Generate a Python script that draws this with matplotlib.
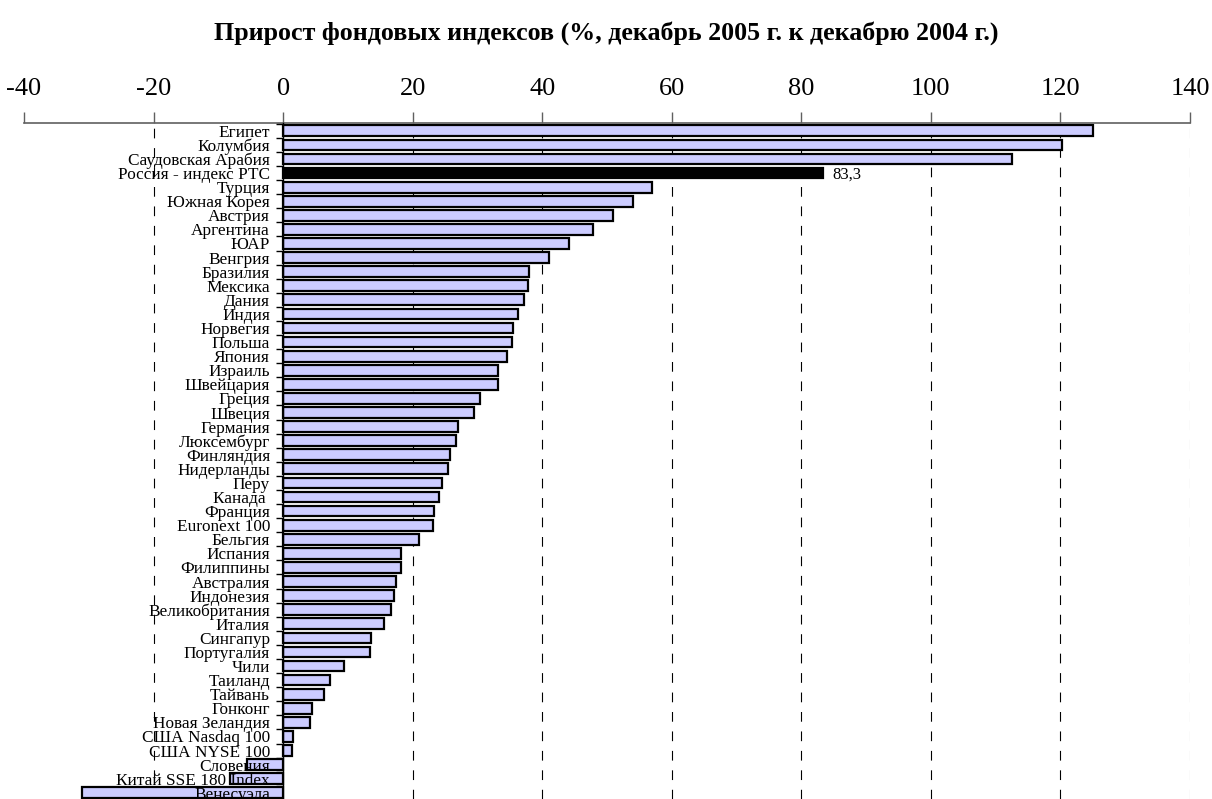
import matplotlib
matplotlib.use("Agg")
import matplotlib.pyplot as plt

plt.rcParams['font.family'] = ['Liberation Serif', 'DejaVu Serif']
plt.rcParams['lines.scale_dashes'] = False

title = "Прирост фондовых индексов (%, декабрь 2005 г. к декабрю 2004 г.)"

categories = [
    "Египет", "Колумбия", "Саудовская Арабия", "Россия - индекс РТС", "Турция",
    "Южная Корея", "Австрия", "Аргентина", "ЮАР", "Венгрия", "Бразилия",
    "Мексика", "Дания", "Индия", "Норвегия", "Польша", "Япония", "Израиль",
    "Швейцария", "Греция", "Швеция", "Германия", "Люксембург", "Финляндия",
    "Нидерланды", "Перу", "Канада ", "Франция", "Euronext 100", "Бельгия",
    "Испания", "Филиппины", "Австралия", "Индонезия", "Великобритания",
    "Италия", "Сингапур", "Португалия", "Чили", "Таиланд", "Тайвань",
    "Гонконг", "Новая Зеландия", "США Nasdaq 100", "США NYSE 100",
    "Словения", "Китай SSE 180 Index", "Венесуэла",
]
values = [
    125.0, 120.3, 112.5, 83.3, 57.0,
    54.0, 50.9, 47.8, 44.1, 41.0, 38.0,
    37.8, 37.2, 36.2, 35.5, 35.4, 34.6, 33.2,
    33.1, 30.4, 29.4, 27.0, 26.7, 25.7,
    25.4, 24.6, 24.0, 23.3, 23.2, 21.0,
    18.2, 18.2, 17.4, 17.1, 16.7,
    15.5, 13.6, 13.4, 9.4, 7.3, 6.3,
    4.5, 4.2, 1.5, 1.4,
    -5.6, -8.2, -31.0,
]
highlight = "Россия - индекс РТС"
highlight_label = "83,3"
xticks = [-40, -20, 0, 20, 40, 60, 80, 100, 120, 140]

fig = plt.figure(figsize=(12.12, 7.99), dpi=100)
W, H = 1212, 799
left_px, right_px, top_px, bot_px = 24, 1190, 122.5, 799
ax = fig.add_axes([left_px / W, 1 - bot_px / H, (right_px - left_px) / W, (bot_px - top_px) / H])

n = len(categories)
pos = list(range(n))
colors = ["black" if c == highlight else "#CCCCFF" for c in categories]
ax.barh(pos, values, height=0.76, color=colors, edgecolor="black", linewidth=1.6, zorder=1.2)

ax.set_xlim(xticks[0], xticks[-1])
ax.set_ylim(47.44, -0.59)

# dashed gridlines
for t in xticks[1:]:
    if t == 0:
        continue
    col = "#B0B0B0" if t == xticks[-1] else "black"
    ax.axvline(t, color=col, linewidth=0.8, linestyle=(0, (7, 7)), zorder=0.5)

# value label for highlight
i = categories.index(highlight)
ax.text(values[i] + 1.5, i + 0.1, highlight_label, va="center", ha="left", fontsize=12)

# top axis
ax.xaxis.set_ticks_position("top")
ax.set_xticks(xticks)
ax.set_xticklabels([str(t) for t in xticks])
ax.tick_params(axis="x", direction="out", length=8, width=1, color="#606060",
               labelsize=19, pad=8)
ax.spines["top"].set_color("#606060")
ax.spines["top"].set_linewidth(1.2)
ax.spines["right"].set_visible(False)
ax.spines["bottom"].set_visible(False)

# y axis at zero
ax.spines["left"].set_position(("data", 0))
ax.spines["left"].set_linewidth(1.0)
ax.set_yticks(pos)
ax.set_yticklabels(categories)
ax.tick_params(axis="y", which="major", length=0, pad=9.4, labelsize=12.4)
ax.set_yticks([p + 0.5 for p in pos[:-1]] + [-0.5], minor=True)
ax.tick_params(axis="y", which="minor", direction="out", length=5, width=1)
ax.yaxis.set_zorder(3)
ax.spines["left"].set_zorder(3)

fig.text(0.5, 1 - 33 / H, title, ha="center", va="center", fontsize=18.7, fontweight="bold")

fig.savefig("out.png", dpi=100)
